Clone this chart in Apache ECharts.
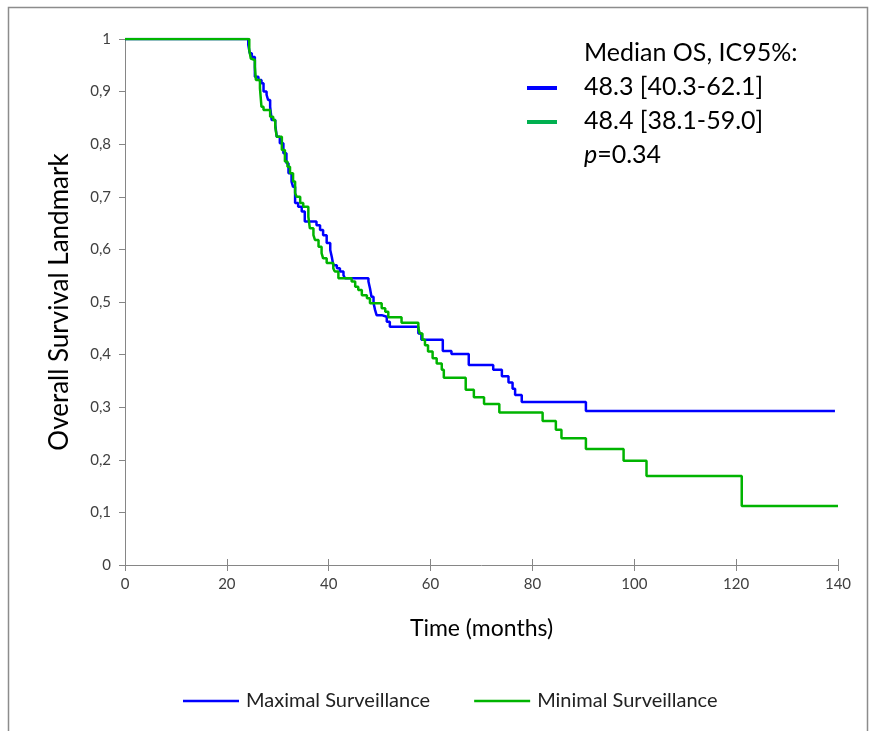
<!DOCTYPE html>
<html>
<head>
<meta charset="utf-8">
<script src="https://cdn.jsdelivr.net/npm/echarts@6/dist/echarts.min.js"></script>
<style>
  html, body { margin: 0; padding: 0; background: #fff; }
  #chart { width: 874px; height: 731px; }
</style>
</head>
<body>
<div id="chart"></div>
<script>
// Kaplan-Meier estimates: time in months, survival probability after each step
const maxT = [0, 24.2, 24.5, 24.9, 25.5, 26.2, 26.8, 27.2, 27.8, 28.1, 28.5, 28.8, 29.5, 29.8, 30.4, 31.1, 31.7, 32.1, 32.7, 33.0, 33.4, 34.0, 34.7, 35.3, 37.6, 38.3, 38.9, 39.6, 40.3, 40.6, 40.9, 41.6, 42.2, 42.9, 43.2, 47.8, 48.1, 48.4, 48.8, 49.1, 49.4, 50.4, 51.4, 52.0, 57.6, 58.2, 62.4, 64.1, 67.5, 72.3, 74.0, 75.3, 76.1, 76.6, 77.9, 90.5, 139.4];
const maxS = [1, 0.989, 0.973, 0.966, 0.928, 0.922, 0.916, 0.900, 0.894, 0.884, 0.871, 0.846, 0.837, 0.814, 0.802, 0.783, 0.764, 0.745, 0.729, 0.719, 0.688, 0.681, 0.672, 0.653, 0.646, 0.637, 0.627, 0.612, 0.599, 0.586, 0.570, 0.564, 0.558, 0.551, 0.545, 0.539, 0.526, 0.510, 0.498, 0.485, 0.475, 0.472, 0.4625, 0.453, 0.440, 0.428, 0.407, 0.401, 0.380, 0.371, 0.359, 0.347, 0.335, 0.323, 0.310, 0.293, 0.293];

const minT = [0, 24.4, 24.7, 24.9, 25.5, 25.7, 26.5, 26.8, 27.2, 28.5, 29.1, 29.5, 29.8, 30.8, 31.4, 31.9, 32.4, 33.0, 33.4, 33.7, 34.4, 35.0, 36.0, 36.3, 37.0, 37.3, 38.0, 38.6, 38.9, 39.6, 40.9, 41.2, 41.9, 44.5, 45.2, 45.8, 46.5, 47.5, 48.1, 50.4, 51.1, 51.7, 54.3, 57.6, 57.9, 58.4, 58.9, 59.5, 60.4, 61.2, 62.2, 62.6, 66.9, 68.5, 70.5, 73.5, 82.0, 84.6, 85.7, 90.5, 97.9, 102.4, 121.1, 140];
const minS = [1, 0.979, 0.963, 0.960, 0.947, 0.922, 0.906, 0.871, 0.865, 0.852, 0.846, 0.833, 0.814, 0.789, 0.767, 0.757, 0.745, 0.729, 0.707, 0.700, 0.688, 0.681, 0.662, 0.640, 0.627, 0.618, 0.605, 0.593, 0.583, 0.574, 0.564, 0.558, 0.545, 0.539, 0.529, 0.523, 0.513, 0.507, 0.4975, 0.488, 0.4816, 0.471, 0.4607, 0.45, 0.440, 0.428, 0.418, 0.406, 0.393, 0.383, 0.371, 0.356, 0.333, 0.319, 0.306, 0.290, 0.274, 0.257, 0.241, 0.2205, 0.198, 0.169, 0.112, 0.112];

const seriesNames = ['Maximal Surveillance', 'Minimal Surveillance'];
const xTicks = [0, 20, 40, 60, 80, 100, 120, 140];
const statLines = ['Median OS, IC95%:', '48.3 [40.3-62.1]', '48.4 [38.1-59.0]', '0.34'];

const BLUE = '#0000ff';
const GREEN = '#00b400';
const AXIS = '#868686';
const LABEL = '#404040';
const FONT = 'Lato, "Open Sans", sans-serif';

const pairs = (t, s) => t.map((v, i) => [v, s[i]]);

const chart = echarts.init(document.getElementById('chart'), null, { renderer: 'canvas' });

const baseX = {
  type: 'value', min: xTicks[0], max: xTicks[xTicks.length - 1], interval: 20,
  splitLine: { show: false }
};
const baseY = { type: 'value', min: 0, max: 1, interval: 0.1, splitLine: { show: false } };

chart.setOption({
  animation: false,
  backgroundColor: '#fff',
  grid: { left: 125, right: 36, top: 39, bottom: 166, containLabel: false },
  xAxis: [
    Object.assign({}, baseX, {
      name: 'Time (months)', nameLocation: 'middle', nameGap: 52,
      nameTextStyle: { fontFamily: FONT, fontSize: 23, color: '#000' },
      axisLine: { lineStyle: { color: AXIS, width: 1 } },
      axisTick: { show: true, length: 6, lineStyle: { color: AXIS } },
      axisLabel: { fontFamily: FONT, fontSize: 15, color: LABEL, margin: 12 }
    }),
    Object.assign({}, baseX, {
      position: 'bottom',
      axisLine: { show: false },
      axisTick: { show: true, inside: true, length: 6, lineStyle: { color: AXIS } },
      axisLabel: { show: false }
    })
  ],
  yAxis: Object.assign({}, baseY, {
    name: 'Overall Survival Landmark', nameLocation: 'middle', nameGap: 52,
    nameTextStyle: { fontFamily: FONT, fontSize: 26, color: '#000' },
    axisLine: { show: true, lineStyle: { color: AXIS, width: 1 } },
    axisTick: { show: true, length: 6, lineStyle: { color: AXIS } },
    axisLabel: {
      fontFamily: FONT, fontSize: 15, color: LABEL, margin: 14,
      formatter: v => String(Math.round(v * 10) / 10).replace('.', ',')
    }
  }),
  legend: {
    data: seriesNames,
    left: 178, top: 686,
    icon: 'rect', itemWidth: 56, itemHeight: 2.5, itemGap: 44,
    textStyle: { fontFamily: FONT, fontSize: 20, color: '#222', padding: [0, 0, 0, 2] }
  },
  series: [
    {
      name: seriesNames[0], type: 'line', step: 'end', showSymbol: false,
      data: pairs(maxT, maxS), color: BLUE,
      lineStyle: { color: BLUE, width: 2.5 }, z: 3
    },
    {
      name: seriesNames[1], type: 'line', step: 'end', showSymbol: false,
      data: pairs(minT, minS), color: GREEN,
      lineStyle: { color: GREEN, width: 2.5 }, z: 4
    }
  ],
  graphic: [
    {
      type: 'rect', shape: { x: 8.5, y: 7.5, width: 859, height: 740 },
      style: { fill: 'none', stroke: '#8c8c8c', lineWidth: 1.5 }, silent: true
    },
    { type: 'text', left: 584, top: 40, style: { text: statLines[0], font: '25px ' + FONT, fill: '#000' } },
    { type: 'line', shape: { x1: 527, y1: 88, x2: 557, y2: 88 }, style: { stroke: BLUE, lineWidth: 4 } },
    { type: 'text', left: 584, top: 74, style: { text: statLines[1], font: '25px ' + FONT, fill: '#000' } },
    { type: 'line', shape: { x1: 527, y1: 122, x2: 557, y2: 122 }, style: { stroke: '#00b050', lineWidth: 4 } },
    { type: 'text', left: 584, top: 108, style: { text: statLines[2], font: '25px ' + FONT, fill: '#000' } },
    {
      type: 'text', left: 584, top: 142,
      style: {
        text: '{i|p}{n|=' + statLines[3] + '}',
        rich: {
          i: { font: 'italic 25px ' + FONT, fill: '#000' },
          n: { font: '25px ' + FONT, fill: '#000' }
        }
      }
    }
  ]
});
</script>
</body>
</html>
